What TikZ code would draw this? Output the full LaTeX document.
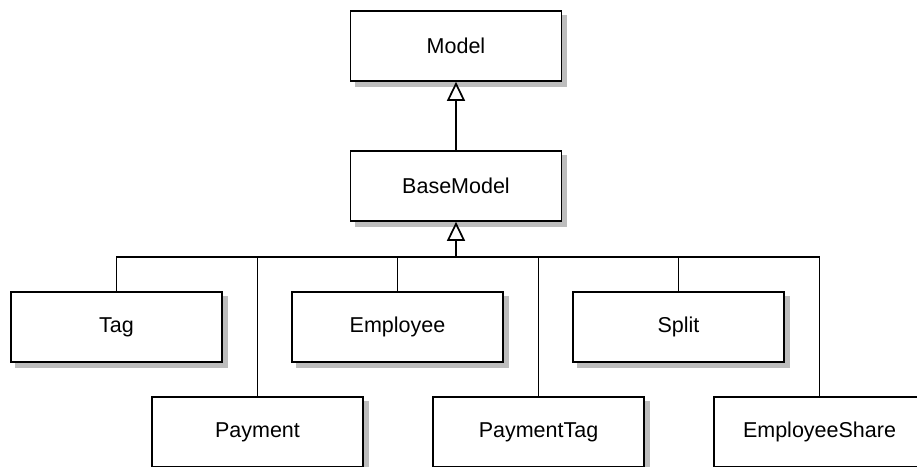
\documentclass[tikz,border=0pt]{standalone}
\usepackage{fontspec}
\setmainfont{Liberation Sans}
\usetikzlibrary{arrows.meta,backgrounds}
\definecolor{shadowgray}{gray}{0.74}
\begin{document}
\begin{tikzpicture}[x=1pt,y=-1pt,
  classbox/.style={draw=black, line width=1.7pt, fill=white,
    minimum width=211pt, minimum height=70pt, inner sep=0pt,
    font=\fontsize{21.5}{26}\selectfont},
  boxshadow/.style={fill=shadowgray, draw=none},
  link/.style={line width=1.7pt, draw=black},
  inherit/.style={link, -{Triangle[open, length=19pt, width=18pt, fill=white]}}
]
\useasboundingbox (0,0) rectangle (917,467);
\clip (0,0) rectangle (917,466);

% top of the hierarchy
\node[classbox] (model) at (456,46) {Model};
\node[classbox] (base)  at (456,186) {BaseModel};

% first row of subclasses
\node[classbox] (tag)      at (116.5,327) {Tag};
\node[classbox] (employee) at (397.5,327) {Employee};
\node[classbox] (split)    at (678.5,327) {Split};

% second row of subclasses (cut off at the bottom)
\node[classbox] (payment)    at (257.5,432) {Payment};
\node[classbox] (paymenttag) at (538.5,432) {PaymentTag};
\node[classbox] (empshare)   at (819.5,432) {EmployeeShare};

% drop shadows, offset down and to the right
\begin{scope}[on background layer]
  \clip (0,0) rectangle (917,466);
  \foreach \c in {model,base,tag,employee,split,payment,paymenttag,empshare}
    \fill[boxshadow] ([shift={(5,5)}]\c.south west) rectangle ([shift={(5,5)}]\c.north east);
\end{scope}

% shared junction of the subclass tree
\coordinate (bus) at (456,257);

\foreach \c in {tag,payment,employee,paymenttag,split,empshare}
  \draw[link] (\c.north) |- (bus);

\draw[inherit] (bus) -- (base.south);
\draw[inherit] (base.north) -- (model.south);
\end{tikzpicture}
\end{document}
